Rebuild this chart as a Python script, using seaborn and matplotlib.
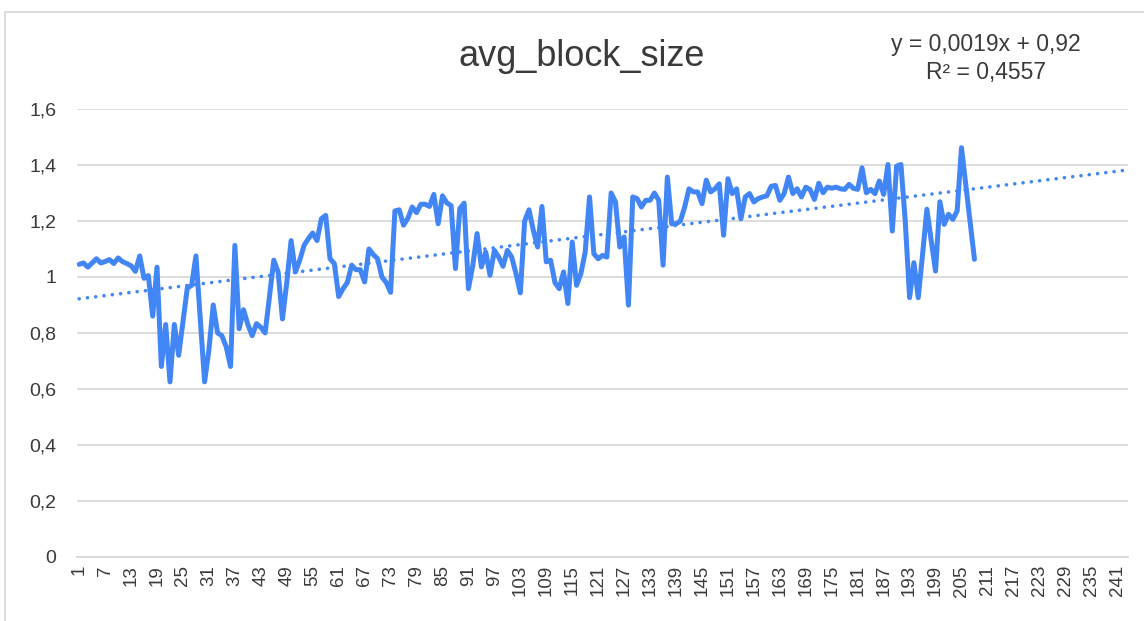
import numpy as np
import pandas as pd
import matplotlib
matplotlib.use("Agg")
import matplotlib.pyplot as plt
from matplotlib.ticker import FuncFormatter, FixedLocator
from matplotlib.patches import Rectangle
import seaborn as sns

# ---- data ----
title = "avg_block_size"
values = [
    1.045, 1.05, 1.035, 1.05, 1.065, 1.05, 1.055, 1.062, 1.048, 1.068,
    1.055, 1.048, 1.04, 1.02, 1.075, 0.995, 1.005, 0.86, 1.035, 0.68,
    0.83, 0.625, 0.83, 0.72, 0.84, 0.96, 0.97, 1.075, 0.85, 0.625,
    0.74, 0.9, 0.80, 0.79, 0.75, 0.68, 1.113, 0.815, 0.883, 0.83,
    0.79, 0.833, 0.82, 0.80, 0.93, 1.06, 1.018, 0.85, 0.98, 1.13,
    1.018, 1.06, 1.113, 1.137, 1.157, 1.13, 1.208, 1.22, 1.065, 1.048,
    0.93, 0.958, 0.98, 1.042, 1.026, 1.026, 0.982, 1.10, 1.08, 1.065,
    1.0, 0.98, 0.945, 1.236, 1.24, 1.185, 1.21, 1.25, 1.23, 1.26,
    1.26, 1.252, 1.295, 1.19, 1.29, 1.265, 1.255, 1.03, 1.244, 1.264,
    0.958, 1.04, 1.155, 1.036, 1.089, 1.006, 1.095, 1.071, 1.038, 1.095,
    1.071, 1.012, 0.943, 1.2, 1.24, 1.167, 1.107, 1.252, 1.054, 1.06,
    0.98, 0.958, 1.018, 0.905, 1.125, 0.97, 1.012, 1.089, 1.286, 1.083,
    1.065, 1.077, 1.071, 1.30, 1.268, 1.107, 1.143, 0.899, 1.286, 1.28,
    1.25, 1.274, 1.274, 1.30, 1.274, 1.042, 1.357, 1.19, 1.19, 1.2,
    1.25, 1.315, 1.304, 1.304, 1.262, 1.346, 1.304, 1.315, 1.333, 1.149,
    1.351, 1.298, 1.315, 1.208, 1.286, 1.298, 1.268, 1.28, 1.286, 1.29,
    1.324, 1.327, 1.274, 1.298, 1.357, 1.298, 1.315, 1.286, 1.321, 1.312,
    1.277, 1.335, 1.301, 1.321, 1.317, 1.321, 1.315, 1.313, 1.331, 1.317,
    1.313, 1.39, 1.301, 1.313, 1.298, 1.343, 1.295, 1.402, 1.164, 1.396,
    1.402, 1.2, 0.926, 1.051, 0.926, 1.08, 1.242, 1.13, 1.021, 1.269,
    1.188, 1.224, 1.206, 1.236, 1.462, 1.33, 1.196, 1.063,
]
n_categories = 243                      # category axis length (empty cells after data)
x_tick_labels = list(range(1, n_categories + 1, 6))   # 1, 7, ..., 241
y_ticks = [0, 0.2, 0.4, 0.6, 0.8, 1.0, 1.2, 1.4, 1.6]
trend_slope = 0.0019
trend_intercept = 0.92
equation_text = "y = 0,0019x + 0,92"
r2_text = "R² = 0,4557"

df = pd.DataFrame({"x": np.arange(1, len(values) + 1), "y": values})
all_x = np.arange(1, n_categories + 1)
trend_df = pd.DataFrame({"x": all_x, "y": trend_intercept + trend_slope * all_x})

# ---- style ----
sns.set_theme(style="white")
plt.rcParams["font.family"] = ["Liberation Sans", "DejaVu Sans"]

blue = "#4285F4"
grid_col = "#d9d9d9"
text_col = "#3a3a3a"

fig = plt.figure(figsize=(11.44, 6.21), dpi=100)
ax = fig.add_axes([77 / 1144, 1 - 556.7 / 621, (1128 - 77) / 1144, (556.7 - 109.1) / 621])

# chart frame
fig.patches.append(Rectangle((5 / 1144, -0.05), 1.2, 1.05 - 12 / 621,
                             transform=fig.transFigure, fill=False,
                             edgecolor="#d6d6d6", lw=1.2, zorder=0))

sns.lineplot(data=df, x="x", y="y", ax=ax, color=blue, lw=3.6,
             solid_joinstyle="round", solid_capstyle="round", zorder=3)
sns.lineplot(data=trend_df, x="x", y="y", ax=ax, color=blue, lw=2.6,
             linestyle=(0, (0.01, 2.3)), dash_capstyle="round", zorder=2)

ax.set_xlim(0.5, n_categories + 0.5)
ax.set_ylim(0, 1.6)
ax.yaxis.set_major_locator(FixedLocator(y_ticks))
ax.yaxis.set_major_formatter(FuncFormatter(lambda v, p: f"{v:g}".replace(".", ",")))
ax.xaxis.set_major_locator(FixedLocator(x_tick_labels))
ax.set_xticklabels([str(v) for v in x_tick_labels], rotation=90)
ax.grid(axis="y", color=grid_col, lw=1.3)
ax.grid(axis="x", visible=False)
for s in ["top", "right", "left"]:
    ax.spines[s].set_visible(False)
ax.spines["bottom"].set_color(grid_col)
ax.spines["bottom"].set_linewidth(1.3)
ax.tick_params(axis="y", length=0, pad=15, labelsize=14, labelcolor=text_col)
ax.tick_params(axis="x", length=0, pad=6, labelsize=13.5, labelcolor=text_col)
ax.set_xlabel("")
ax.set_ylabel("")
ax.set_axisbelow(True)

fig.text(582 / 1144, 1 - 56 / 621, title, ha="center", va="center",
         fontsize=26, color=text_col)
fig.text(986 / 1144, 1 - 45 / 621, equation_text, ha="center", va="center",
         fontsize=16.5, color=text_col)
fig.text(986 / 1144, 1 - 73 / 621, r2_text, ha="center", va="center",
         fontsize=16.5, color=text_col)

fig.savefig("out.png", dpi=100)
